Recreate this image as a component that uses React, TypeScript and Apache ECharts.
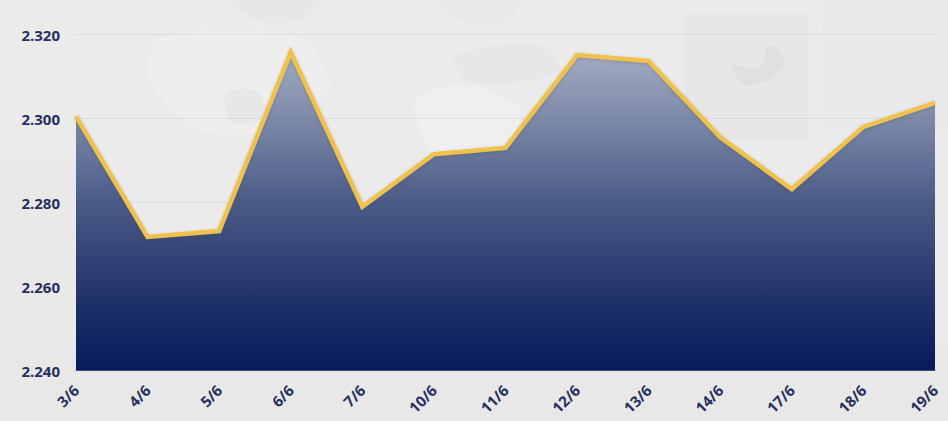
import React, { useEffect, useRef } from "react";
import * as echarts from "echarts";

const categories = ["3/6","4/6","5/6","6/6","7/6","10/6","11/6","12/6","13/6","14/6","17/6","18/6","19/6"];
const values = [2.3005,2.2718,2.2732,2.3158,2.279,2.2915,2.293,2.3151,2.3137,2.2955,2.2832,2.298,2.3037];
const yTicks = { min: 2.24, max: 2.32, interval: 0.02 };

const decor = (points: number[][], fill: string, smooth = 0.3) => ({
  type: "polygon", silent: true, z: -1,
  shape: { points, smooth },
  style: { fill },
});

const labelStyle = { color: "#252f60", fontFamily: "Open Sans", fontWeight: 700, fontSize: 15 };

export default function App() {
  const ref = useRef<HTMLDivElement>(null);
  useEffect(() => {
    const chart = echarts.init(ref.current!, undefined, { renderer: "svg" });
    chart.setOption({
      animation: false,
      backgroundColor: "#ebebeb",
      graphic: { elements: [
        decor([[0,345],[948,345],[948,421],[0,421]], "#e8e8e8", 0),
        decor([[0,160],[75,160],[75,345],[0,345]], "#e9e9e9", 0),
        decor([[160,38],[300,38],[330,90],[265,130],[200,130],[150,80]], "#eeeeee"),
        decor([[415,100],[470,85],[520,110],[510,150],[440,160]], "#efefef"),
        decor([[225,95],[255,90],[265,115],[235,125]], "#e7e7e7"),
        decor([[232,0],[320,0],[305,18],[260,22]], "#e7e7e7"),
        decor([[440,0],[520,0],[500,25],[460,20]], "#e8e8e8"),
        decor([[455,55],[540,45],[560,70],[500,85],[465,80]], "#e7e7e7"),
        decor([[684,13],[808,13],[808,140],[684,140]], "#e7e7e7", 0),
        decor([[770,45],[785,60],[772,78],[745,85],[732,65],[758,68]], "#e0e0e0"),
        decor([[820,0],[948,0],[948,130],[825,130]], "#e9e9e9", 0),
      ] },
      grid: { left: 76, right: 13, top: 34.5, bottom: 50.5, containLabel: false },
      xAxis: {
        type: "category", data: categories, boundaryGap: false, z: 2,
        axisLine: { show: true, lineStyle: { color: "#3f4d7c", width: 1 } },
        axisTick: { show: false }, splitLine: { show: false },
        axisLabel: { ...labelStyle, rotate: 45, interval: 0, margin: 17, hideOverlap: false, showMinLabel: true, showMaxLabel: true },
      },
      yAxis: {
        type: "value", ...yTicks, z: 2,
        axisLine: { show: false }, axisTick: { show: false },
        splitLine: { show: true, lineStyle: { color: "rgba(40,50,90,0.08)", width: 1 } },
        axisLabel: { ...labelStyle, margin: 16, formatter: (v: number) => v.toFixed(3) },
      },
      series: [
        {
          type: "line", data: values, symbol: "none", z: 1,
          lineStyle: { width: 0 },
          areaStyle: { opacity: 1, origin: "start", color: new echarts.graphic.LinearGradient(0, 0, 0, 1, [
            { offset: 0, color: "#a3adc3" },
            { offset: 0.21, color: "#7c89a8" },
            { offset: 0.465, color: "#4b5c88" },
            { offset: 0.78, color: "#1f3169" },
            { offset: 1, color: "#081a5b" },
          ]) },
        },
        {
          type: "line", data: values, symbol: "none", z: 3,
          lineStyle: { color: "#efc14e", width: 4.5, join: "miter", shadowColor: "rgba(60,60,60,0.3)", shadowBlur: 3, shadowOffsetY: 1 },
        },
      ],
    });
    return () => chart.dispose();
  }, []);
  return <div ref={ref} style={{ position: "fixed", left: 0, top: 0, width: 948, height: 421 }} />;
}
